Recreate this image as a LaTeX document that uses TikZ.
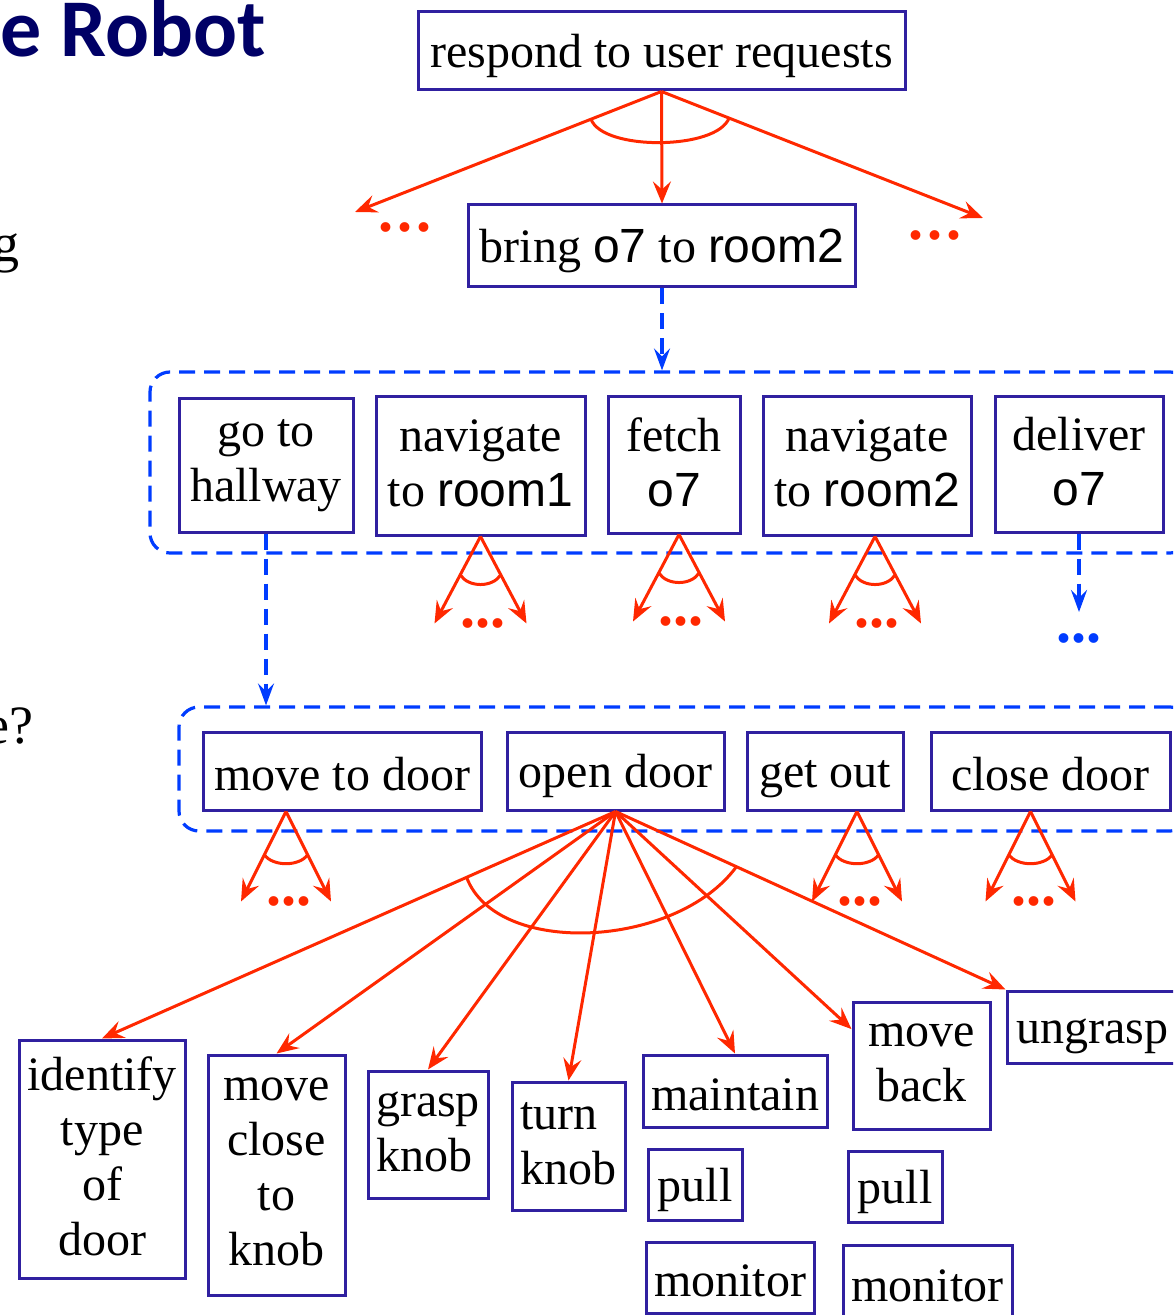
\documentclass[tikz,border=0pt]{standalone}
\usepackage{fontspec}
\setmainfont{Liberation Serif}
\newfontfamily\hv{Liberation Sans}
\newfontfamily\titlefnt{Carlito}
\usetikzlibrary{arrows.meta,calc}
\definecolor{boxblue}{RGB}{48,32,160}
\definecolor{myred}{RGB}{255,40,0}
\definecolor{dblue}{RGB}{0,60,255}
\definecolor{titleblue}{RGB}{0,0,102}
\tikzset{
  task/.style={draw=boxblue, line width=1.5pt, inner xsep=2pt, inner ysep=1pt, align=center, font=\fontsize{24}{27.5}\selectfont,
    execute at begin node=\rule{0pt}{22pt}, execute at end node=\rule[-3pt]{0pt}{3pt}},
  multi/.style={task, execute at begin node=\rule{0pt}{26pt}, execute at end node=\rule[-3pt]{0pt}{3pt}},
  grp/.style={draw=dblue, line width=1.6pt, dash pattern=on 8pt off 4.5pt, rounded corners=10pt},
  decomp/.style={draw=myred, line width=1.5pt, -{Stealth[length=11pt,width=9pt,inset=4pt]}},
  refine/.style={draw=dblue, line width=1.6pt, dash pattern=on 8pt off 4.5pt, -{Stealth[length=11pt,width=8pt,inset=4pt]}},
  andarc/.style={draw=myred, line width=1.5pt},
  etc/.style={text=myred, inner sep=0pt, font=\fontsize{30}{30}\selectfont\bfseries},
  side/.style={anchor=base east, inner sep=0pt}
}
\begin{document}
\begin{tikzpicture}[x=0.5pt,y=-0.5pt]
\clip (0,0) rectangle (1173,1315);
\node[side, text=titleblue, font=\titlefnt\bfseries\fontsize{41}{41}\selectfont] (title) at (266,57) {e Robot};
\node[side, font=\fontsize{27}{27}\selectfont] (lg) at (20,262) {g};
\node[side, font=\fontsize{27}{27}\selectfont] (lq) at (34,743) {e?};

\node[grp, minimum width=520pt, minimum height=90.5pt] (g1) at (670,462.5) {};
\node[grp, minimum width=505.5pt, minimum height=62pt] (g2) at (684.5,769) {};

\node[task, minimum width=243.5pt, minimum height=39pt] (resp) at (661.5,51) {respond to user requests};
\node[task, minimum width=193.5pt, minimum height=41pt] (bring) at (662,246) {bring {\hv o7} to {\hv room2}};

\node[multi, minimum width=87pt, minimum height=66.5pt] (hall) at (266,465.5) {go to\\hallway};
\node[multi, minimum width=104.5pt, minimum height=69pt] (nav1) at (480.5,466) {navigate\\to {\hv room1}};
\node[multi, minimum width=66pt, minimum height=68pt] (fetch) at (674,465) {fetch\\{\hv o7}};
\node[multi, minimum width=104pt, minimum height=69pt] (nav2) at (867,466) {navigate\\to {\hv room2}};
\node[multi, minimum width=84pt, minimum height=67.5pt] (del) at (1079,464.5) {deliver\\{\hv o7}};

\node[task, minimum width=139pt, minimum height=39pt] (mtd) at (342,771) {move to door};
\node[task, minimum width=108.5pt, minimum height=39pt] (opd) at (615.5,771) {open door};
\node[task, minimum width=78pt, minimum height=39pt] (gout) at (825,771) {get out};
\node[task, minimum width=119.5pt, minimum height=39pt] (cld) at (1050.5,771) {close door};

\node[multi, minimum width=83pt, minimum height=119pt] (ident) at (102,1159) {identify\\type\\of\\door};
\node[multi, minimum width=68.5pt, minimum height=120pt] (mclose) at (276.5,1175) {move\\close\\to\\knob};
\node[multi, align=left, minimum width=60pt, minimum height=63.5pt] (grasp) at (428,1134.5) {grasp\\knob};
\node[multi, align=left, minimum width=56.5pt, minimum height=64pt] (turn) at (568.5,1146) {turn\\knob};
\node[task, minimum width=92pt, minimum height=36pt] (maint) at (735,1091) {maintain};
\node[task, minimum width=47pt, minimum height=35.5pt] (pull1) at (695,1184.5) {pull};
\node[task, minimum width=84pt, minimum height=35.5pt] (mon1) at (730,1277.5) {monitor};
\node[multi, minimum width=68.5pt, minimum height=63.5pt] (mback) at (921.5,1065.5) {move\\back};
\node[task, minimum width=47pt, minimum height=35.5pt] (pull2) at (895,1186.5) {pull};
\node[task, minimum width=84.5pt, minimum height=37.5pt] (mon2) at (927.5,1282.5) {monitor};
\node[task, minimum width=85.5pt, minimum height=36pt] (ugr) at (1092.5,1027) {ungrasp};

\coordinate (ul) at (355,212);
\coordinate (ur) at (983,218);
\draw[decomp] (resp.south) -- (ul);
\draw[decomp] (resp.south) -- (bring.north);
\draw[decomp] (resp.south) -- (ur);
\draw[andarc] ($(resp.south)!0.23!(ul)$) .. controls +(12,32) and +(-12,32) .. ($(resp.south)!0.21!(ur)$);
\node[etc] (uldots) at (405,227) {.\kern2pt.\kern2pt.};
\node[etc] (urdots) at (935,235) {.\kern2pt.\kern2pt.};

\draw[refine] (bring.south) -- (bring.south |- g1.north);
\draw[refine] (hall.south) -- (hall.south |- g2.north);
\coordinate (delend) at (1079,612);
\draw[refine] (del.south) -- (delend);
\node[etc, text=dblue] (deldots) at (1079,638) {...};

\foreach \n/\dx in {nav1/0, fetch/5, nav2/8} {
  \coordinate (\n-o) at ($(\n.south)+(\dx,0)$);
  \coordinate (\n-l) at ($(\n-o)+(-46,87)$);
  \coordinate (\n-r) at ($(\n-o)+(46,87)$);
  \draw[decomp] (\n-o) -- (\n-l);
  \draw[decomp] (\n-o) -- (\n-r);
  \draw[andarc] ($(\n-o)!0.44!(\n-l)$) .. controls +(8,13) and +(-8,13) .. ($(\n-o)!0.44!(\n-r)$);
  \node[etc] (\n-dots) at ($(\n-o)+(2,87)$) {...};
}
\foreach \n/\dx in {mtd/-56, gout/32, cld/-20} {
  \coordinate (\n-o) at ($(\n.south)+(\dx,0)$);
  \coordinate (\n-l) at ($(\n-o)+(-45,90)$);
  \coordinate (\n-r) at ($(\n-o)+(45,90)$);
  \draw[decomp] (\n-o) -- (\n-l);
  \draw[decomp] (\n-o) -- (\n-r);
  \draw[andarc] ($(\n-o)!0.48!(\n-l)$) .. controls +(8,12) and +(-8,12) .. ($(\n-o)!0.48!(\n-r)$);
  \node[etc] (\n-dots) at ($(\n-o)+(3,90)$) {...};
}

\foreach \t in {ident.north, mclose.north, grasp.north, turn.north, maint.north, ugr.north west}
  \draw[decomp] (opd.south) -- (\t);
\draw[decomp] (opd.south) -- ($(mback.north west)!0.22!(mback.south west)$);
\draw[andarc] ($(opd.south)!0.29!(ident.north)$) .. controls +(30,80) and +(-60,82) .. ($(opd.south)!0.31!(ugr.north west)$);
\end{tikzpicture}
\end{document}
